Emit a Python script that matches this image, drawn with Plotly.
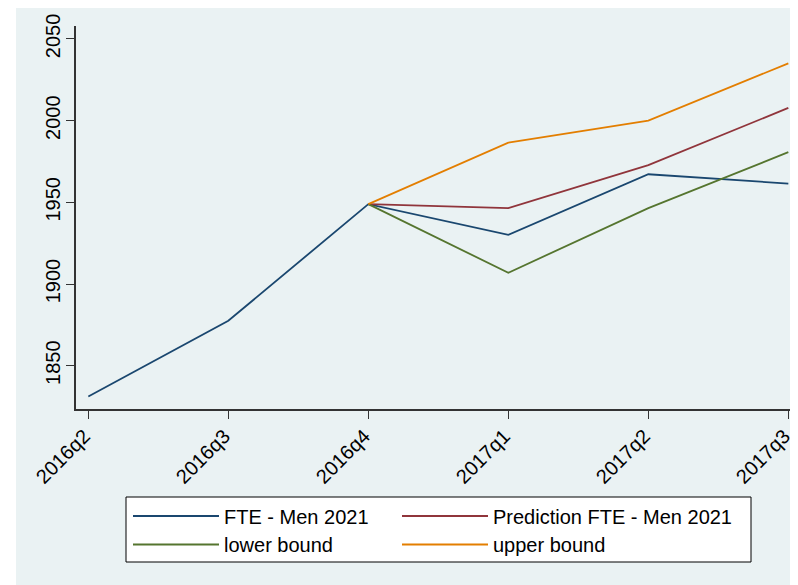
import plotly.graph_objects as go

quarters = ["2016q2", "2016q3", "2016q4", "2017q1", "2017q2", "2017q3"]
fte_men = [1831.2, 1877.5, 1948.9, 1930.1, 1967.2, 1961.5]
forecast_quarters = ["2016q4", "2017q1", "2017q2", "2017q3"]
prediction = [1948.9, 1946.5, 1972.8, 2007.8]
lower_bound = [1948.9, 1906.9, 1946.5, 1980.7]
upper_bound = [1948.9, 1986.6, 2000.0, 2035.1]
y_ticks = [1850, 1900, 1950, 2000, 2050]

NAVY = "#1a476f"
MAROON = "#90353b"
GREEN = "#55752f"
ORANGE = "#e37e00"
BG = "#eaf2f3"
FONT = "Liberation Sans, Arial, sans-serif"

xi = {q: i for i, q in enumerate(quarters)}

fig = go.Figure()
fig.add_trace(go.Scatter(x=[xi[q] for q in quarters], y=fte_men, mode="lines",
                         name="FTE - Men 2021", line=dict(color=NAVY, width=1.8),
                         legend="legend"))
fig.add_trace(go.Scatter(x=[xi[q] for q in forecast_quarters], y=prediction, mode="lines",
                         name="Prediction FTE - Men 2021", line=dict(color=MAROON, width=1.8),
                         legend="legend2"))
fig.add_trace(go.Scatter(x=[xi[q] for q in forecast_quarters], y=lower_bound, mode="lines",
                         name="lower bound", line=dict(color=GREEN, width=1.8),
                         legend="legend3"))
fig.add_trace(go.Scatter(x=[xi[q] for q in forecast_quarters], y=upper_bound, mode="lines",
                         name="upper bound", line=dict(color=ORANGE, width=1.8),
                         legend="legend4"))

# figure geometry (page body adds an 8px offset in the screenshot)
OFF = 8
W, H = 798 - OFF, 585 - OFF
L, T = 76 - OFF, 26 - OFF
PLOT_BOTTOM = 409 - OFF
B = H - PLOT_BOTTOM
PW, PH = W - L, PLOT_BOTTOM - T

def px(x):
    """screenshot x -> paper x"""
    return (x - OFF - L) / PW

def py(y):
    """screenshot y -> paper y"""
    return (PLOT_BOTTOM - (y - OFF)) / PH

leg_common = dict(orientation="h", xanchor="left", yanchor="middle",
                  bgcolor="rgba(0,0,0,0)", borderwidth=0,
                  font=dict(family=FONT, size=20, color="black"),
                  itemwidth=86)

# a trailing no-break space nudges the rotated labels slightly left of the tick
tick_text = [q + "\u00a0" for q in quarters]

fig.update_layout(
    width=W, height=H,
    margin=dict(l=L, r=0, t=T, b=B),
    paper_bgcolor="white",
    plot_bgcolor="white",
    font=dict(family=FONT, color="black"),
    showlegend=True,
    legend=dict(x=px(128), y=py(516), **leg_common),
    legend2=dict(x=px(397), y=py(516), **leg_common),
    legend3=dict(x=px(128), y=py(544.5), **leg_common),
    legend4=dict(x=px(397), y=py(544.5), **leg_common),
    xaxis=dict(
        range=[-0.088, 5.069],
        tickmode="array", tickvals=list(range(len(quarters))), ticktext=tick_text,
        tickangle=-45, ticks="outside", ticklen=8, tickcolor="#333333", tickwidth=1.2,
        ticklabeloverflow="allow", ticklabelstandoff=-6,
        showline=True, linecolor="#333333", linewidth=1.5,
        showgrid=False, zeroline=False,
        tickfont=dict(family=FONT, size=20, color="black"),
    ),
    yaxis=dict(
        range=[1823.5, 2057.95],
        tickmode="array", tickvals=y_ticks,
        tickangle=-90, ticks="outside", ticklen=8, tickcolor="#333333", tickwidth=1.2,
        ticklabelstandoff=-2,
        showline=True, linecolor="#333333", linewidth=1.5,
        showgrid=True, gridcolor=BG, gridwidth=1.2, zeroline=False,
        tickfont=dict(family=FONT, size=20, color="black"),
    ),
    shapes=[
        dict(type="rect", xref="paper", yref="paper", layer="below",
             x0=px(16), x1=px(800), y0=py(590), y1=py(0),
             fillcolor=BG, line=dict(width=0)),
        dict(type="rect", xref="paper", yref="paper", layer="above",
             x0=px(126), x1=px(751), y0=py(562), y1=py(497),
             fillcolor="white", line=dict(color="black", width=1)),
    ],
)

fig.write_html("out.html")
